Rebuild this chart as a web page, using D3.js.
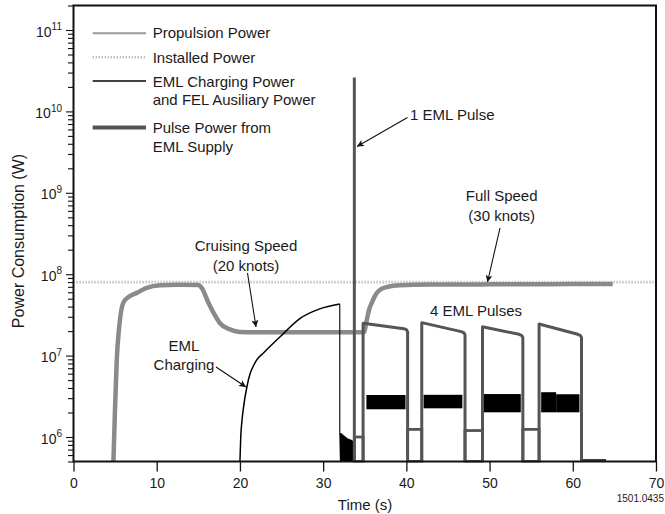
<!DOCTYPE html>
<html><head><meta charset="utf-8">
<script src="https://cdn.jsdelivr.net/npm/d3@7"></script>
<style>
body{margin:0;background:#fff}
svg{display:block}
text{font-family:"Liberation Sans",Arial,sans-serif;fill:#1a1a1a}
</style>
</head><body><svg id="c" width="665" height="514"></svg>
<script>
// ---------- DATA ----------
const xTickLabels = [0, 10, 20, 30, 40, 50, 60, 70];
const yTickExps = [6, 7, 8, 9, 10, 11];

// Propulsion power (time s, W)
const propT = [4.8, 4.98, 5.2, 5.5, 6.0, 6.8, 7.6, 8.8, 10.4, 12.5, 15.0, 15.4, 16.2, 16.8, 17.6, 18.8, 20.0, 22.0, 28.0, 34.9, 35.2, 35.5, 35.9, 36.4, 37.0, 37.8, 39.2, 42.8, 50.0, 57.0, 64.8];
const propW = [5e5, 2.1e6, 8.9e6, 2.3e7, 4.5e7, 5.4e7, 5.9e7, 6.8e7, 7.3e7, 7.4e7, 7.35e7, 6.8e7, 4.5e7, 3.4e7, 2.5e7, 2.1e7, 1.95e7, 1.93e7, 1.93e7, 1.93e7, 2.6e7, 3.6e7, 4.6e7, 5.8e7, 6.6e7, 7.0e7, 7.3e7, 7.45e7, 7.5e7, 7.55e7, 7.6e7];

// Installed power
const installedW = 8e7;
const installedSpan = [0, 70];

// EML charging power (smooth rise)
const chargeT = [20.0, 20.1, 20.25, 20.4, 20.85, 21.2, 21.6, 22.0, 22.8, 24.9, 27.2, 29.6, 32.0];
const chargeW = [5e5, 1e6, 1.6e6, 2.2e6, 4.2e6, 5.9e6, 7.4e6, 8.8e6, 1.07e7, 1.73e7, 2.85e7, 3.75e7, 4.3e7];
// Drop and ripple after charging
const rippleT = [32.0, 32.0, 32.08, 32.12, 32.2, 32.24, 32.32, 32.36, 32.44, 32.48, 32.56, 32.6, 32.68, 32.72, 32.8, 32.84, 32.92, 32.96, 33.04, 33.08, 33.16, 33.2, 33.28, 33.32, 33.4, 33.44, 33.52, 33.56, 33.62];
const rippleW = [4.3e7, 1.15e6, 5e5, 1.12e6, 5e5, 1.1e6, 5e5, 1.07e6, 5e5, 1.05e6, 5e5, 1.03e6, 5e5, 1.0e6, 5e5, 9.8e5, 5e5, 9.6e5, 5e5, 9.5e5, 5e5, 9.4e5, 5e5, 9.3e5, 5e5, 9.2e5, 5e5, 9.0e5, 5e5];
// FEL auxiliary bands during pulses (start, end, low W, high W)
const bandStart = [35.2, 42.07, 49.25, 56.2, 58.0];
const bandEnd   = [39.9, 46.73, 53.75, 58.0, 60.8];
const bandLow   = [2.19e6, 2.25e6, 2.01e6, 2.01e6, 2.01e6];
const bandHigh  = [3.28e6, 3.3e6, 3.37e6, 3.55e6, 3.35e6];
// Tail after pulses
const tailT = [61.1, 64.0];
const tailW = [5.2e5, 5.2e5];

// Pulse power from EML supply
const spikeT = 33.75, spikeW = 2.6e10;
const pulseRise = [34.8, 41.85, 49.15, 55.95];
const pulseFall = [40.15, 47.05, 54.0, 61.05];
const pulseTopStart = [2.5e7, 2.54e7, 2.26e7, 2.44e7];
const pulseTopEnd = [2.1e7, 1.93e7, 1.79e7, 1.79e7];
const gapStart = [33.75, 40.15, 47.05, 54.0];
const gapEnd = [34.8, 41.85, 49.15, 55.95];
const gapLevel = [1.0e6, 1.24e6, 1.2e6, 1.24e6];

const floorW = 5e5;

// ---------- LAYOUT ----------
const L = 73.5, R = 656, T = 5.5, B = 461.5;
const x = d3.scaleLinear().domain([0, 70]).range([L, R]);
const y = d3.scaleLog().domain([5e5, 2e11]).range([B, T]);

const svg = d3.select("#c");
const defs = svg.append("defs");
defs.append("clipPath").attr("id", "clip").append("rect")
  .attr("x", L).attr("y", T).attr("width", R - L).attr("height", B - T + 1);
defs.append("marker").attr("id", "arr").attr("viewBox", "0 0 10 10")
  .attr("refX", 10).attr("refY", 5).attr("markerWidth", 9).attr("markerHeight", 7)
  .attr("markerUnits", "userSpaceOnUse").attr("orient", "auto")
  .append("path").attr("d", "M0,0 L10,5 L0,10 L2.5,5 Z").attr("fill", "#111");

const plot = svg.append("g").attr("clip-path", "url(#clip)");

// Installed power
plot.append("line")
  .attr("x1", x(installedSpan[0])).attr("x2", x(installedSpan[1]))
  .attr("y1", y(installedW)).attr("y2", y(installedW))
  .attr("stroke", "#b5b5b5").attr("stroke-width", 2.6).attr("stroke-dasharray", "1.2,1.8");

// Propulsion
const prop = propT.map((t, i) => [t, propW[i]]);
plot.append("path").datum(prop)
  .attr("d", d3.line().x(d => x(d[0])).y(d => y(d[1])).curve(d3.curveMonotoneX))
  .attr("fill", "none").attr("stroke", "#8a8a8a").attr("stroke-width", 4.5).attr("stroke-linejoin", "round");

// EML charging
const charge = chargeT.map((t, i) => [t, chargeW[i]]);
plot.append("path").datum(charge)
  .attr("d", d3.line().x(d => x(d[0])).y(d => y(d[1])).curve(d3.curveMonotoneX))
  .attr("fill", "none").attr("stroke", "#000").attr("stroke-width", 1.5);
const ripple = rippleT.map((t, i) => [t, rippleW[i]]);
plot.append("path").datum(ripple)
  .attr("d", d3.line().x(d => x(d[0])).y(d => y(d[1])))
  .attr("fill", "none").attr("stroke", "#000").attr("stroke-width", 1.1);
plot.selectAll("rect.band").data(bandStart.map((s, i) => ({s, e: bandEnd[i], lo: bandLow[i], hi: bandHigh[i]})))
  .join("rect").attr("class", "band")
  .attr("x", d => x(d.s)).attr("width", d => x(d.e) - x(d.s))
  .attr("y", d => y(d.hi)).attr("height", d => y(d.lo) - y(d.hi))
  .attr("fill", "#000");
plot.append("path").datum(tailT.map((t, i) => [t, tailW[i]]))
  .attr("d", d3.line().x(d => x(d[0])).y(d => y(d[1])))
  .attr("fill", "none").attr("stroke", "#000").attr("stroke-width", 1.5);

// Pulse power
const pulseColor = "#555";
plot.selectAll("rect.gap").data(gapStart.map((s, i) => ({s, e: gapEnd[i], v: gapLevel[i]})))
  .join("rect").attr("class", "gap")
  .attr("x", d => x(d.s)).attr("width", d => x(d.e) - x(d.s))
  .attr("y", d => y(d.v)).attr("height", d => y(floorW) - y(d.v))
  .attr("fill", "none").attr("stroke", pulseColor).attr("stroke-width", 2.8);
plot.append("path").datum([[spikeT, floorW], [spikeT, spikeW]])
  .attr("d", d3.line().x(d => x(d[0])).y(d => y(d[1])))
  .attr("stroke", pulseColor).attr("stroke-width", 3).attr("fill", "none");
const pulseLine = d3.line().x(d => x(d[0])).y(d => y(d[1]));
pulseRise.forEach((r, i) => {
  const f = pulseFall[i];
  const pts = [[r, floorW], [r, pulseTopStart[i]], [f - 0.45, pulseTopEnd[i] * 1.02], [f - 0.12, pulseTopEnd[i] * 0.985], [f, pulseTopEnd[i] * 0.93], [f, floorW]];
  plot.append("path").datum(pts).attr("d", pulseLine)
    .attr("fill", "none").attr("stroke", pulseColor).attr("stroke-width", 3).attr("stroke-linejoin", "round");
});

// ---------- AXES ----------
const minor = [];
for (let e = 5; e <= 11; e++) for (let m = 2; m <= 9; m++) {
  const v = m * Math.pow(10, e);
  if (v >= 5e5 && v <= 2e11) minor.push(v);
}
const gyMin = svg.append("g").attr("transform", `translate(${L},0)`)
  .call(d3.axisLeft(y).tickValues(minor).tickSize(5.5).tickFormat(""));
const gyMaj = svg.append("g").attr("transform", `translate(${L},0)`)
  .call(d3.axisLeft(y).tickValues(yTickExps.map(e => Math.pow(10, e))).tickSize(7.5).tickFormat(""));
[gyMin, gyMaj].forEach(g => { g.select(".domain").remove(); g.selectAll("line").attr("stroke", "#111").attr("stroke-width", 1.1); });

yTickExps.forEach(e => {
  const t = svg.append("text").attr("x", 62).attr("y", y(Math.pow(10, e)) + 6.6)
    .attr("text-anchor", "end").style("font-size", "14px");
  t.append("tspan").text("10");
  t.append("tspan").attr("dy", -6.5).style("font-size", "10px").text(String(e));
});

const gx = svg.append("g").attr("transform", `translate(0,${B})`)
  .call(d3.axisBottom(x).tickValues(xTickLabels).tickSize(10).tickFormat(d => d));
gx.select(".domain").remove();
gx.selectAll("line").attr("stroke", "#111").attr("stroke-width", 1.3);
gx.selectAll("text").attr("y", 0).attr("dy", null).attr("transform", "translate(0,26.5)")
  .style("font-size", "14px").style("font-family", "Liberation Sans, Arial, sans-serif").attr("fill", "#1a1a1a");

svg.append("rect").attr("x", L).attr("y", T).attr("width", R - L).attr("height", B - T)
  .attr("fill", "none").attr("stroke", "#111").attr("stroke-width", 2);

svg.append("text").attr("x", 365).attr("y", 510).attr("text-anchor", "middle").style("font-size", "15px").text("Time (s)");
svg.append("text").attr("transform", "translate(23.5,241) rotate(-90)").attr("text-anchor", "middle")
  .style("font-size", "16px").text("Power Consumption (W)");
svg.append("text").attr("x", 664).attr("y", 501.5).attr("text-anchor", "end").style("font-size", "10px").text("1501.0435");

// ---------- LEGEND ----------
const lg = svg.append("g");
const lx1 = 92.7, lx2 = 146, ltx = 152.7;
lg.append("line").attr("x1", lx1).attr("x2", lx2).attr("y1", 33.3).attr("y2", 33.3).attr("stroke", "#999").attr("stroke-width", 2);
lg.append("line").attr("x1", lx1).attr("x2", lx2).attr("y1", 57.3).attr("y2", 57.3).attr("stroke", "#b5b5b5").attr("stroke-width", 2.4).attr("stroke-dasharray", "1.2,1.8");
lg.append("line").attr("x1", lx1).attr("x2", lx2).attr("y1", 81).attr("y2", 81).attr("stroke", "#000").attr("stroke-width", 1.5);
lg.append("line").attr("x1", lx1).attr("x2", lx2).attr("y1", 127.5).attr("y2", 127.5).attr("stroke", "#555").attr("stroke-width", 4);
[["Propulsion Power", 38.3], ["Installed Power", 62.6], ["EML Charging Power", 86.6], ["and FEL Ausiliary Power", 105], ["Pulse Power from", 132.7], ["EML Supply", 151.7]]
  .forEach(([s, yy]) => lg.append("text").attr("x", ltx).attr("y", yy).style("font-size", "15px").text(s));

// ---------- ANNOTATIONS ----------
function label(lines, cx, y0, anchor) {
  lines.forEach((s, i) => svg.append("text").attr("x", cx).attr("y", y0 + i * 19.5)
    .attr("text-anchor", anchor || "middle").style("font-size", "15px").text(s));
}
function arrow(x1, y1, x2, y2) {
  svg.append("line").attr("x1", x1).attr("y1", y1).attr("x2", x2).attr("y2", y2)
    .attr("stroke", "#111").attr("stroke-width", 1.1).attr("marker-end", "url(#arr)");
}
label(["Cruising Speed", "(20 knots)"], 246, 251);
arrow(247.5, 273, 256, 327);
label(["EML", "Charging"], 184, 350.5);
arrow(216, 367, 246, 387);
label(["1 EML Pulse"], 410, 119.5, "start");
arrow(407.5, 117.5, 357, 146.5);
label(["Full Speed", "(30 knots)"], 501.7, 201);
arrow(500, 228, 487.5, 282);
label(["4 EML Pulses"], 430, 315.5, "start");
</script></body></html>
